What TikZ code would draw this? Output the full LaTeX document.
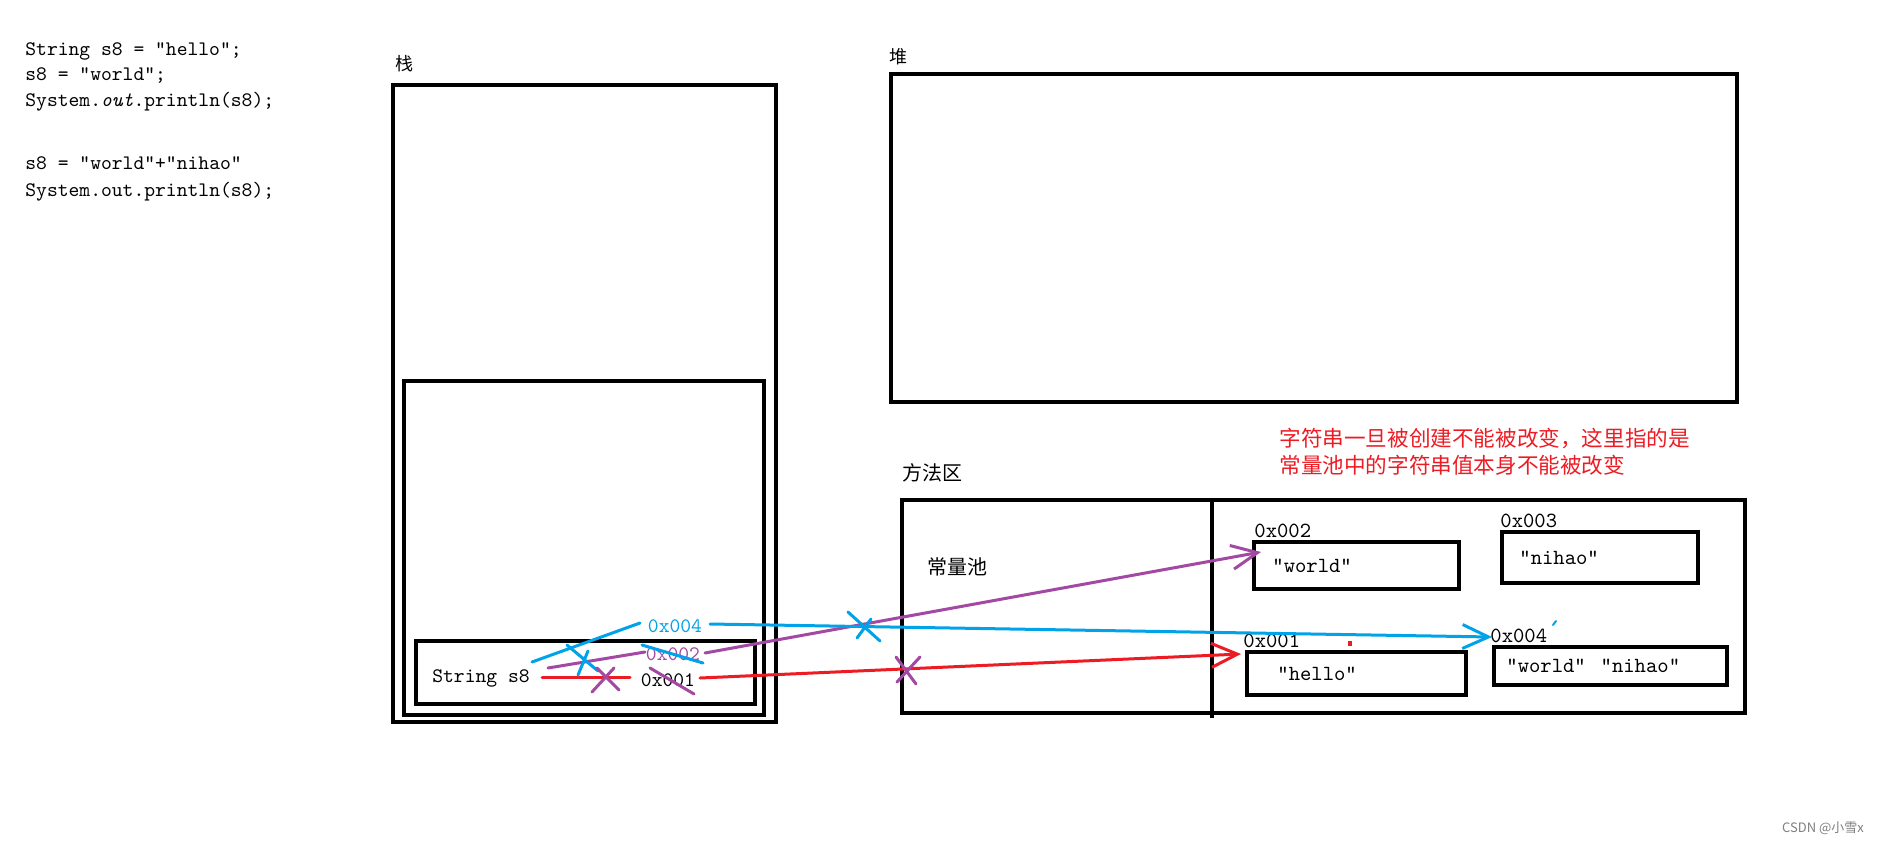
\documentclass[tikz,border=0pt]{standalone}
\usepackage{fontspec}
\newfontfamily\cjk{Noto Sans CJK SC}
\newfontfamily\mono{Latin Modern Mono}
\usetikzlibrary{arrows.meta}
\definecolor{pred}{HTML}{ED1C24}
\definecolor{pblue}{HTML}{00A2E8}
\definecolor{ppurple}{HTML}{A349A4}
\begin{document}
\begin{tikzpicture}[x=0.5pt,y=-0.5pt,
  bx/.style 2 args={draw,line width=2.3pt,inner sep=0pt,outer sep=0pt,minimum width={#1*0.5pt},minimum height={#2*0.5pt}},
  code/.style={anchor=base west,inner sep=0pt,font=\mono\fontsize{10.3}{12}\selectfont},
  lbl/.style={inner sep=0pt,font=\mono\fontsize{10.3}{12}\selectfont},
  lblb/.style={inner sep=0pt,font=\mono\fontsize{10.8}{12}\selectfont},
  cn/.style={inner sep=0pt,font=\cjk\fontsize{#1}{#1}\selectfont},
  stroke/.style={line width=1.5pt,line cap=round},
  rl/.style={stroke,draw=pred}, bl/.style={stroke,draw=pblue}, pl/.style={stroke,draw=ppurple},
  tip/.style={-{Straight Barb[length=13pt,width=12pt,line width=1.5pt]}}
]
\fill[white] (0,0) rectangle (1879,841);
\useasboundingbox (0,0) rectangle (1879,841);

% code
\node[code] (c1) at (25,55) {String s8 = "hello";};
\node[code] (c2) at (25,80) {s8 = "world";};
\node[code] (c3) at (25,106) {System.\textit{out}.println(s8);};
\node[code] (c4) at (25,169) {s8 = "world"+"nihao"};
\node[code] (c5) at (25,196) {System.out.println(s8);};

% stack
\node[cn=9] (zhan) at (404,64) {栈};
\node[bx={383}{637}] (stackO) at (584.5,403.5) {};
\node[bx={360}{334}] (stackI) at (584,548) {};
\node[bx={339}{63}] (frame) at (585.5,672.5) {};
\node[lbl] (s8) at (481,678) {String s8};
\node[lbl,text=pblue] (a4) at (675,626) {0x004};
\node[lbl,text=ppurple] (a2) at (673,654) {0x002};
\node[lbl] (a1) at (668,680) {0x001};

% heap
\node[cn=9] (dui) at (898,57) {堆};
\node[bx={846}{328}] (heap) at (1314,238) {};

% note
\node[cn=10.8,text=pred,anchor=west] (note1) at (1279,438) {字符串一旦被创建不能被改变，这里指的是};
\node[cn=10.8,text=pred,anchor=west] (note2) at (1279,465) {常量池中的字符串值本身不能被改变};

% method area
\node[cn=10] (fa) at (932,473) {方法区};
\node[bx={843}{213}] (method) at (1323.5,606.5) {};
\coordinate (dv1) at (1212,500);
\coordinate (dv2) at (1212,718);
\draw[line width=2.3pt] (dv1) -- (dv2);
\node[cn=10] (pool) at (957,567) {常量池};

\node[bx={205}{47}] (wbox) at (1356.5,565.5) {};
\node[bx={196}{51}] (nbox) at (1600,557.5) {};
\node[bx={219}{43}] (hbox) at (1356.5,673.5) {};
\node[bx={233}{38}] (wnbox) at (1610.5,666) {};

\node[lblb,anchor=base west] (l2) at ([yshift=2.5pt]wbox.north west) {0x002};
\node[lblb,anchor=base west] (l3) at ([yshift=2.5pt,xshift=-1pt]nbox.north west) {0x003};
\node[lblb,anchor=base west] (l1) at ([yshift=2.5pt,xshift=-2pt]hbox.north west) {0x001};
\node[lblb,anchor=base west] (l4) at ([yshift=2.5pt,xshift=-2pt]wnbox.north west) {0x004};

\node[lblb,anchor=west] (tw) at ([xshift=9pt]wbox.west) {"world"};
\node[lblb,anchor=west] (tn) at ([xshift=8.5pt]nbox.west) {"nihao"};
\node[lblb,anchor=west] (th) at ([xshift=15pt]hbox.west) {"hello"};
\node[lblb,anchor=west] (twn) at ([xshift=6pt]wnbox.west) {"world"~\,"nihao"};

% connector points
\coordinate (r1a) at (542,677); \coordinate (r1b) at (630,677);
\coordinate (r2a) at (700,678); \coordinate (r2b) at (1241,654);
\coordinate (p1a) at (548,668); \coordinate (p1b) at (645,652);
\coordinate (p2a) at (705,653); \coordinate (p2b) at (1261,552);
\coordinate (b1a) at (532,662); \coordinate (b1b) at (640,623);
\coordinate (b2a) at (710,624); \coordinate (b2b) at (1492,637);

\draw[rl] (r1a) -- (r1b);
\draw[rl,tip] (r2a) -- (r2b);
\draw[pl] (p1a) -- (p1b);
\draw[pl,tip] (p2a) -- (p2b);
\draw[bl] (b1a) -- (b1b);
\draw[bl,tip] (b2a) -- (b2b);

% crosses and strikes
\draw[bl] (567,645) -- (598,671) (588,651) -- (578,675);
\draw[pl] (592,692) -- (614,668) (597,668) -- (619,690);
\draw[bl] (642,645) -- (703,663);
\draw[pl] (650,668) -- (694,694);
\draw[bl] (848,612) -- (880,641) (871,619) -- (857,638);
\draw[pl] (896,657) -- (916,684) (920,657) -- (897,682);

% small marks
\fill[pred] (1348,641) rectangle (1352,646);
\draw[bl,line width=1pt] (1553,625) -- (1556,621);

% watermark
\node[cn=6.5,text=gray] (wm) at (1823,828) {CSDN @小雪x};
\end{tikzpicture}
\end{document}
